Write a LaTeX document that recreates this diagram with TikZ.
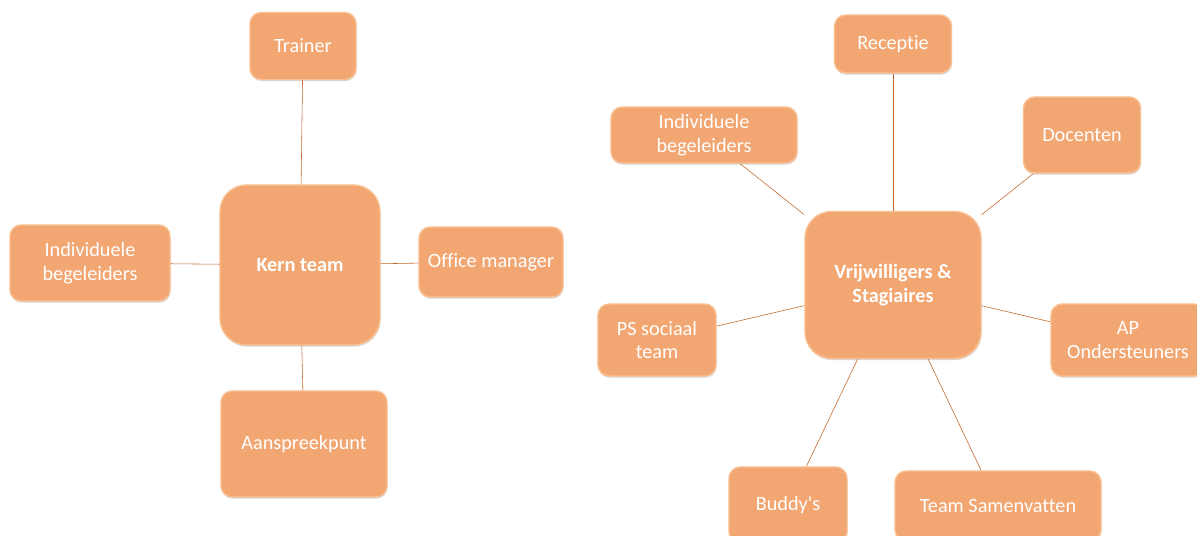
\documentclass[tikz,border=0pt]{standalone}
\usepackage{fontspec}
\setmainfont[Ligatures={NoCommon}]{Carlito}
\usetikzlibrary{shadows}
\definecolor{boxorange}{RGB}{242,166,114}
\definecolor{edgeorange}{RGB}{250,192,146}
\definecolor{linkbrown}{RGB}{196,100,40}

\begin{document}
\begin{tikzpicture}[
    x=0.025cm, y=-0.025cm,
    box/.style={rectangle, rounded corners=8pt, text centered, align=center, fill=boxorange, draw=edgeorange, line width=1pt, text=white, font=\fontsize{14.4}{17}\selectfont, drop shadow={shadow xshift=0.4pt, shadow yshift=-1.2pt, opacity=0.25, fill=black!60}},
    hub/.style={box, rounded corners=19pt, font=\fontsize{14.4}{17}\selectfont\bfseries},
    link/.style={thin, color=linkbrown}
]

% Background
\useasboundingbox (0,0) rectangle (1197,536);
\fill[white] (0,0) rectangle (1197,536);

% Kern team
\node[hub, minimum width=4cm, minimum height=4cm] (kern) at (300,265) {Kern team};
\node[box, minimum width=2.65cm, minimum height=1.675cm] (trainer) at (303,46) {Trainer};
\node[box, minimum width=4cm, minimum height=1.9cm] (begeleiders1) at (90,263) {Individuele\\begeleiders};
\node[box, minimum width=3.6cm, minimum height=1.75cm] (office) at (491,262) {Office manager};
\node[box, minimum width=4.15cm, minimum height=2.65cm] (aanspreekpunt) at (304,444) {Aanspreekpunt};

% Vrijwilligers & Stagiaires
\node[hub, minimum width=4.4cm, minimum height=3.675cm] (vrijwilligers) at (893,285) {Vrijwilligers \&\\Stagiaires};
\node[box, minimum width=2.925cm, minimum height=1.45cm] (receptie) at (893,44) {Receptie};
\node[box, minimum width=4.65cm, minimum height=1.4cm] (begeleiders2) at (704,135) {Individuele\\begeleiders};
\node[box, minimum width=2.925cm, minimum height=1.9cm] (docenten) at (1082,135) {Docenten};
\node[box, minimum width=2.95cm, minimum height=1.8cm] (pssociaal) at (657,340) {PS sociaal\\team};
\node[box, minimum width=3.85cm, minimum height=1.8cm] (ap) at (1128,340) {AP\\Ondersteuners};
\node[box, minimum width=2.95cm, minimum height=1.9cm] (buddys) at (788,505) {Buddy\textquotesingle s};
\node[box, minimum width=5.15cm, minimum height=1.75cm] (samenvatten) at (998,506) {Team Samenvatten};

% Connections
\draw[link] (kern) -- (trainer);
\draw[link] (kern) -- (begeleiders1);
\draw[link] (kern) -- (office);
\draw[link] (kern) -- (aanspreekpunt);

\draw[link] (vrijwilligers) -- (receptie);
\draw[link] (vrijwilligers) -- (begeleiders2);
\draw[link] (vrijwilligers) -- (docenten);
\draw[link] (vrijwilligers) -- (pssociaal);
\draw[link] (vrijwilligers) -- (ap);
\draw[link] (vrijwilligers) -- (buddys);
\draw[link] (vrijwilligers) -- (samenvatten);

\end{tikzpicture}
\end{document}
